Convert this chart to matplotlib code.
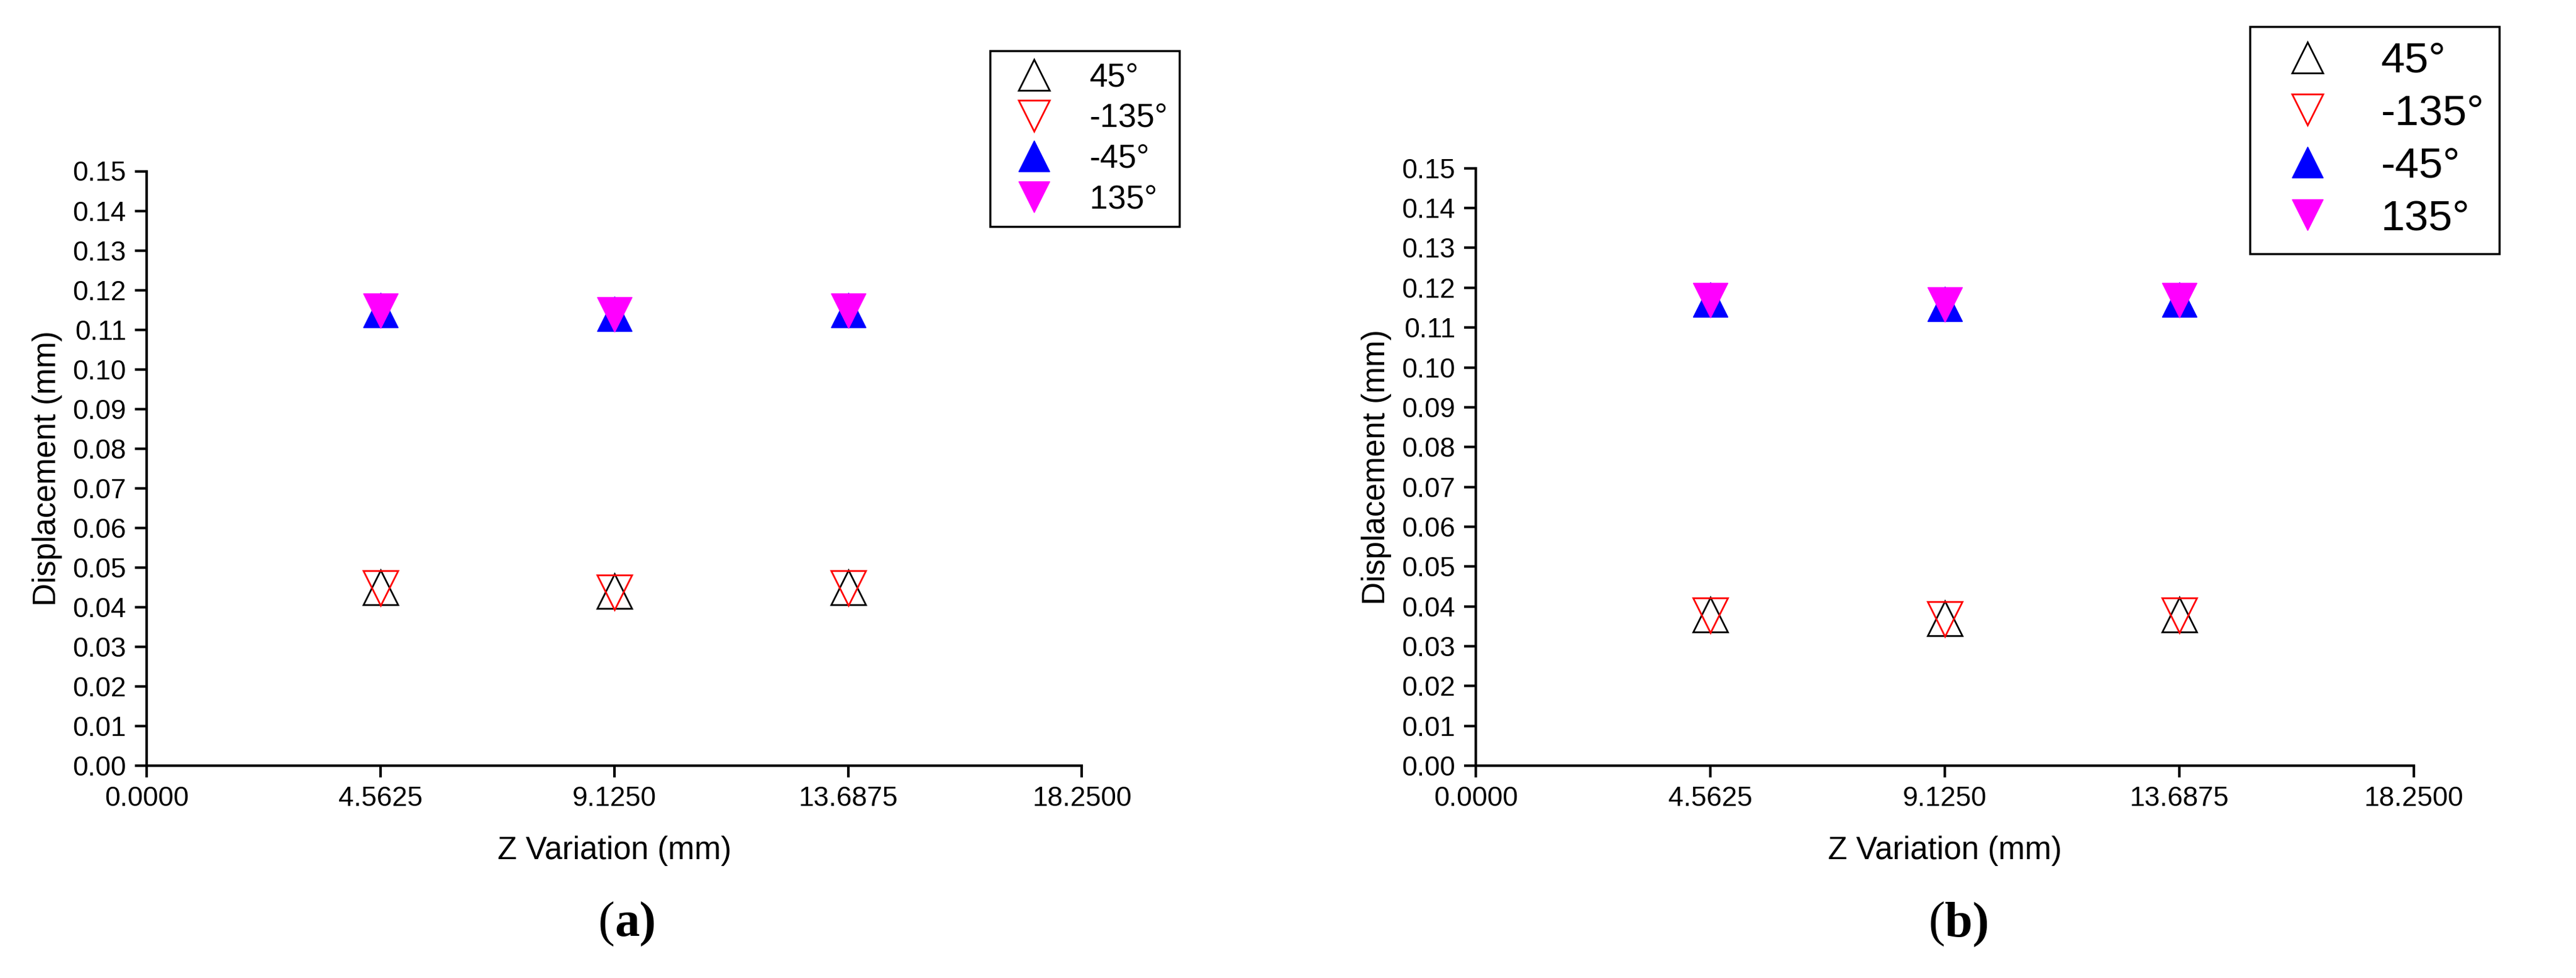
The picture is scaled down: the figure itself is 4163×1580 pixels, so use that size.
import matplotlib.pyplot as plt

plt.rcParams['font.family'] = ['Liberation Sans', 'DejaVu Sans']

# Data
z = [4.5625, 9.1250, 13.6875]
xticks = [0.0, 4.5625, 9.125, 13.6875, 18.25]
xticklabels = ['0.0000', '4.5625', '9.1250', '13.6875', '18.2500']
yticks = [i / 100 for i in range(16)]

a_45 = [0.0450, 0.0440, 0.0450]
a_m135 = [0.0448, 0.0438, 0.0448]
a_m45 = [0.1150, 0.1140, 0.1150]
a_135 = [0.1148, 0.1138, 0.1148]

b_45 = [0.0380, 0.0370, 0.0380]
b_m135 = [0.0378, 0.0368, 0.0378]
b_m45 = [0.1170, 0.1160, 0.1170]
b_135 = [0.1168, 0.1158, 0.1168]

fig = plt.figure(figsize=(41.63, 15.8), dpi=100)
ax1 = fig.add_axes([0.057, 0.217, 0.363, 0.608])
ax2 = fig.add_axes([0.573, 0.217, 0.364, 0.611])


def draw(ax, d45, dm135, dm45, d135, legloc, legsize, cap):
    ms = 40
    ax.plot(z, d45, '^', ls='none', ms=ms, mfc='none', mec='black', mew=2, label='45°')
    ax.plot(z, dm135, 'v', ls='none', ms=ms, mfc='none', mec='red', mew=2, label='-135°')
    ax.plot(z, dm45, '^', ls='none', ms=ms, mfc='blue', mec='blue', label='-45°')
    ax.plot(z, d135, 'v', ls='none', ms=ms, mfc='magenta', mec='magenta', label='135°')
    ax.set_xlim(0, 18.25)
    ax.set_ylim(0, 0.15)
    ax.set_xticks(xticks)
    ax.set_xticklabels(xticklabels)
    ax.set_yticks(yticks)
    ax.set_yticklabels(['%.2f' % v for v in yticks])
    ax.spines['top'].set_visible(False)
    ax.spines['right'].set_visible(False)
    ax.spines['left'].set_linewidth(3)
    ax.spines['bottom'].set_linewidth(3)
    ax.tick_params(direction='out', length=14, width=3, labelsize=32, pad=10)
    ax.set_xlabel('Z Variation (mm)', fontsize=37, labelpad=28)
    ax.set_ylabel('Displacement (mm)', fontsize=37, labelpad=12)
    leg = ax.legend(loc='upper left', fontsize=legsize,
                    fancybox=False, edgecolor='black', framealpha=1,
                    handletextpad=0.7, borderpad=0.35, labelspacing=0.3,
                    markerscale=0.9)
    leg.set_bbox_to_anchor(legloc, transform=fig.transFigure)
    leg.get_frame().set_linewidth(2.5)
    fig.text(ax.get_position().x0 + ax.get_position().width / 2, 0.055, '(',
             ha='right', va='center', fontsize=58, family='Liberation Serif')
    fig.text(ax.get_position().x0 + ax.get_position().width / 2, 0.055, cap,
             ha='left', va='center', fontsize=58, family='Liberation Serif',
             fontweight='bold')


draw(ax1, a_45, a_m135, a_m45, a_135, (0.378, 0.965), 38, 'a)')
draw(ax2, b_45, b_m135, b_m45, b_135, (0.865, 0.995), 50, 'b)')

fig.savefig('out.png', dpi=100)
